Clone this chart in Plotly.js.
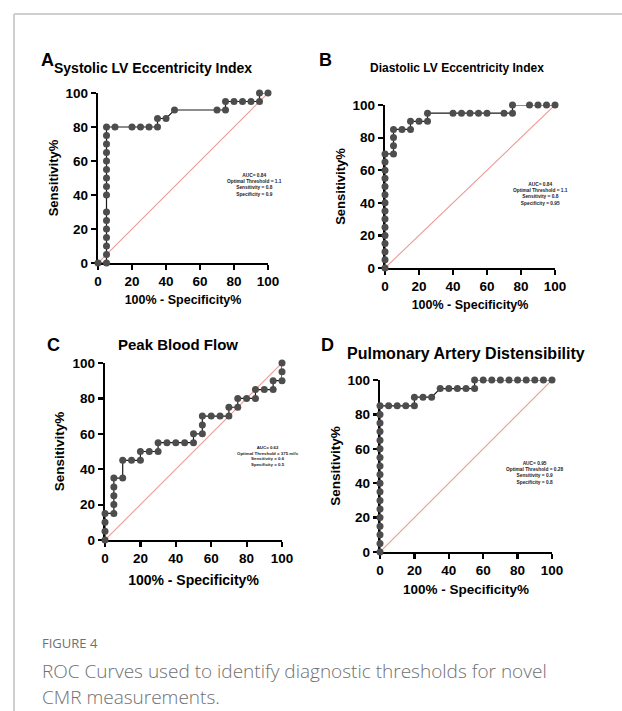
<!DOCTYPE html>
<html><head><meta charset="utf-8">
<script src="https://cdn.plot.ly/plotly-3.0.1.min.js"></script>
<style>html,body{margin:0;padding:0;background:#fff;} #chart{width:622px;height:711px;}</style>
</head><body><div id="chart"></div>
<script>
// ---------- data ----------
const panelLetters = ['A', 'B', 'C', 'D'];
const panelTitles = ['Systolic LV Eccentricity Index', 'Diastolic LV Eccentricity Index', 'Peak Blood Flow', 'Pulmonary Artery Distensibility'];
const xTitle = '100% - Specificity%';
const yTitle = 'Sensitivity%';
const tickVals = [0, 20, 40, 60, 80, 100];
const tickText = ['0', '20', '40', '60', '80', '100'];
const diagonal = [0, 100];

const fprA = [0,5,5,5,5,5,5,5,5,5,5,5,5,5,5,5,5,10,20,25,30,35,35,40,45,70,75,75,80,85,90,95,95,100];
const tprA = [0,0,5,10,15,20,25,30,40,45,50,55,60,65,70,75,80,80,80,80,80,80,85,85,90,90,90,95,95,95,95,95,100,100];

const fprB = [0,0,0,0,0,0,0,0,0,0,0,0,0,0,0,5,5,5,5,10,15,15,20,25,25,40,45,50,55,60,70,75,75,85,90,95,100];
const tprB = [0,5,10,15,20,25,30,35,40,45,50,55,60,65,70,70,75,80,85,85,85,90,90,90,95,95,95,95,95,95,95,95,100,100,100,100,100];

const fprC = [0,0,0,0,5,5,5,5,5,10,10,15,20,20,25,30,30,35,40,45,50,50,55,55,55,60,65,70,70,75,75,80,85,85,90,95,95,100,100,100];
const tprC = [0,5,10,15,15,20,25,30,35,35,45,45,45,50,50,50,55,55,55,55,55,60,60,65,70,70,70,70,75,75,80,80,80,85,85,85,90,90,95,100];

const fprD = [0,0,0,0,0,0,0,0,0,0,0,0,0,0,0,0,0,0,5,10,15,20,20,25,30,35,40,45,50,55,55,60,65,70,75,80,85,90,95,100];
const tprD = [0,5,10,15,20,25,30,35,40,45,50,55,60,65,70,75,80,85,85,85,85,85,90,90,90,95,95,95,95,95,100,100,100,100,100,100,100,100,100,100];

const statsA = ['AUC= 0.84', 'Optimal Threshold = 1.1', 'Sensitivity = 0.8', 'Specificity = 0.9'];
const statsB = ['AUC= 0.84', 'Optimal Threshold = 1.1', 'Sensitivity = 0.8', 'Specificity = 0.95'];
const statsC = ['AUC= 0.62', 'Optimal Threshold = 375 ml/s', 'Sensitivity = 0.6', 'Specificity = 0.5'];
const statsD = ['AUC= 0.95', 'Optimal Threshold = 0.28', 'Sensitivity = 0.9', 'Specificity = 0.8'];

const figureLabel = 'FIGURE 4';
const captionLines = ['ROC Curves used to identify diagnostic thresholds for novel', 'CMR measurements.'];

// ---------- layout helpers ----------
const W = 622, H = 711;
const X = p => p / W;
const Y = p => 1 - p / H;
const FONT = 'Liberation Sans, Arial, Helvetica, sans-serif';

// plot boxes in pixels: [left, right, top, bottom]
const boxes = [
  [98, 268, 93, 263],
  [385, 555, 105, 268],
  [105, 282, 363, 540],
  [380, 552, 380, 552]
];
const fprs = [fprA, fprB, fprC, fprD];
const tprs = [tprA, tprB, tprC, tprD];
const stats = [statsA, statsB, statsC, statsD];

const data = [];
const layout = {
  width: W, height: H,
  margin: {l: 0, r: 0, t: 0, b: 0},
  paper_bgcolor: '#fff', plot_bgcolor: 'rgba(0,0,0,0)',
  showlegend: false,
  annotations: [], shapes: []
};

const xTitleSize = [12.5, 12.5, 14, 13.5];
const yTitleSize = [13, 13, 13.5, 13.5];
const xStandoff = [7, 7, 10, 7];
const yStandoff = [4, 4, 5, 4];

boxes.forEach((b, i) => {
  const n = i === 0 ? '' : String(i + 1);
  const xa = 'x' + n, ya = 'y' + n;
  data.push({
    type: 'scatter', mode: 'lines', x: diagonal, y: diagonal,
    xaxis: xa, yaxis: ya, line: {color: '#ec9a94', width: 1.1}, hoverinfo: 'skip', cliponaxis: false
  });
  data.push({
    type: 'scatter', mode: 'lines+markers', x: fprs[i], y: tprs[i],
    xaxis: xa, yaxis: ya, cliponaxis: false,
    line: {color: '#1a1a1a', width: 1.2},
    marker: {size: 7, color: '#4d4d4d'}
  });
  const common = {
    range: [0, 100], showline: true, linecolor: '#000', linewidth: 2.2,
    ticks: 'outside', ticklen: 5, tickwidth: 2.2, tickcolor: '#000',
    tickmode: 'array', tickvals: tickVals, ticktext: tickText,
    tickfont: {family: FONT, size: 13.5, color: '#000', weight: 'bold'},
    showgrid: false, zeroline: false, fixedrange: true, layer: 'below traces', automargin: false
  };
  layout['xaxis' + n] = Object.assign({}, common, {
    domain: [X(b[0]), X(b[1])], anchor: ya,
    title: {text: xTitle, font: {family: FONT, size: xTitleSize[i], color: '#000', weight: 'bold'}, standoff: xStandoff[i]}
  });
  layout['yaxis' + n] = Object.assign({}, common, {
    domain: [Y(b[3]), Y(b[2])], anchor: xa,
    title: {text: yTitle, font: {family: FONT, size: yTitleSize[i], color: '#000', weight: 'bold'}, standoff: yStandoff[i]}
  });
});

// panel letters and titles
const letterPos = [[47, 60], [325, 60], [53, 345], [327, 345]];
const titlePos = [[153, 68], [457, 68], [178, 344], [466, 353]];
const titleSize = [14, 12, 15, 16];
panelLetters.forEach((L, i) => {
  layout.annotations.push({
    xref: 'paper', yref: 'paper', x: X(letterPos[i][0]), y: Y(letterPos[i][1]),
    xanchor: 'center', yanchor: 'middle', showarrow: false, text: L,
    font: {family: FONT, size: 18, color: '#000', weight: 'bold'}
  });
  layout.annotations.push({
    xref: 'paper', yref: 'paper', x: X(titlePos[i][0]), y: Y(titlePos[i][1]),
    xanchor: 'center', yanchor: 'middle', showarrow: false, text: panelTitles[i],
    font: {family: FONT, size: titleSize[i], color: '#000', weight: 'bold'}
  });
});

// stats boxes
const statPos = [[254, 185], [540, 194], [268, 456], [535, 473]];
const statSize = [4.8, 4.8, 4.4, 4.8];
stats.forEach((s, i) => {
  layout.annotations.push({
    xref: 'paper', yref: 'paper', x: X(statPos[i][0]), y: Y(statPos[i][1]),
    xanchor: 'center', yanchor: 'middle', align: 'center', showarrow: false,
    text: s.join('<br>'),
    font: {family: FONT, size: statSize[i], color: '#222', weight: 'bold'}
  });
});

// caption
layout.annotations.push({
  xref: 'paper', yref: 'paper', x: X(40), y: Y(643), xanchor: 'left', yanchor: 'middle',
  showarrow: false, text: figureLabel,
  font: {family: 'Open Sans, sans-serif', size: 13, color: '#707070'}
});
captionLines.forEach((t, k) => {
  layout.annotations.push({
    xref: 'paper', yref: 'paper', x: X(40), y: Y(671 + k * 26), xanchor: 'left', yanchor: 'middle',
    showarrow: false, text: t,
    font: {family: 'Open Sans, sans-serif', size: 19, color: '#707070', weight: 300}
  });
});

// figure frame (top and left rule)
layout.shapes.push({type: 'line', xref: 'paper', yref: 'paper', x0: X(14), x1: 1, y0: Y(14), y1: Y(14), line: {color: '#cfcfcf', width: 2}});
layout.shapes.push({type: 'line', xref: 'paper', yref: 'paper', x0: X(14), x1: X(14), y0: Y(14), y1: 0, line: {color: '#cfcfcf', width: 2}});

Plotly.newPlot('chart', data, layout, {displayModeBar: false, staticPlot: true});
</script></body></html>
